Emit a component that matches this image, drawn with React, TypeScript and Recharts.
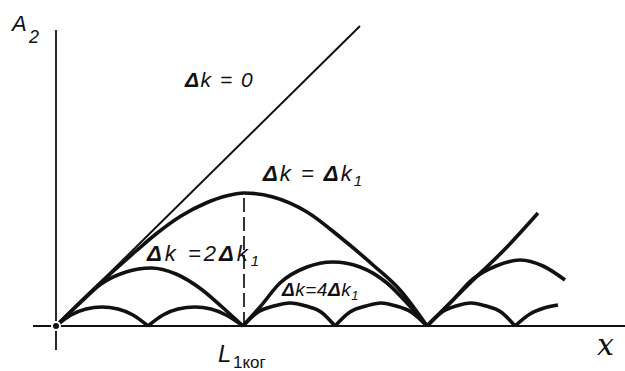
import { Line, LineChart, ReferenceLine, XAxis, YAxis } from "recharts";

type Pt = [number, number];

// distances from the origin, in the drawing's own units (x along the crystal, A2 amplitude)
const dk0Line: Pt[] = [[0, 0], [304, 300]];

const dk1Arches: Pt[][] = [
  [[0, 0], [40, 39], [80, 75], [100, 92], [125, 110], [150, 123], [170, 130], [188, 133],
    [217, 129], [251, 114], [284, 89], [317, 61], [344, 36], [371, 0]],
  [[371, 0], [411, 40], [451, 79], [482, 113]],
];

const dk2Arches: Pt[][] = [
  [[0, 0], [25, 24], [45, 42], [70, 54], [95, 58], [120, 52], [145, 37], [165, 20], [187, 0]],
  [[187, 0], [204, 19], [224, 43], [251, 59], [277, 64], [304, 59], [331, 43], [351, 23], [371, 0]],
  [[371, 0], [395, 24], [417, 47], [440, 60], [464, 66], [487, 60], [509, 46]],
];

const dk4Arches: Pt[][] = [
  [[0, 0], [15, 11], [30, 17], [46, 19], [62, 17], [77, 11], [92, 0]],
  [[92, 0], [107, 11], [122, 17], [139, 19], [155, 17], [170, 11], [187, 0]],
  [[187, 0], [202, 14], [218, 20], [234, 23], [250, 20], [265, 14], [279, 0]],
  [[279, 0], [294, 14], [310, 20], [325, 23], [340, 20], [355, 14], [371, 0]],
  [[371, 0], [386, 14], [400, 20], [415, 23], [430, 20], [445, 14], [459, 0]],
  [[459, 0], [474, 12], [488, 18], [502, 21]],
];

const coherenceX = 188;
const coherencePeak = 133;

const toRows = (pts: Pt[]) => pts.map(([x, a]) => ({ x, a }));

const INK = "#111";
const labelFont = "'Liberation Sans', Arial, sans-serif";

function Labels() {
  return (
    <svg
      width={625}
      height={371}
      style={{ position: "absolute", left: 0, top: 0, pointerEvents: "none" }}
      fontFamily={labelFont}
      fontStyle="italic"
      fill={INK}
    >
      <text x={12} y={31} fontSize={22}>
        A
        <tspan x={29} y={43} fontSize={18}>2</tspan>
      </text>
      <text x={185} y={87} fontSize={21} letterSpacing={1.5}>
        <tspan fontWeight="bold">Δ</tspan>k = 0
      </text>
      <text x={263} y={181} fontSize={22} letterSpacing={2}>
        <tspan fontWeight="bold">Δ</tspan>k = <tspan fontWeight="bold">Δ</tspan>k
        <tspan dy={5} fontSize={15}>1</tspan>
      </text>
      <text x={147} y={261} fontSize={22} letterSpacing={3}>
        <tspan fontWeight="bold">Δ</tspan>k =2<tspan fontWeight="bold">Δ</tspan>k
        <tspan dy={5} fontSize={15}>1</tspan>
      </text>
      <text x={282} y={296} fontSize={19} letterSpacing={0.5}>
        <tspan fontWeight="bold">Δ</tspan>k=4<tspan fontWeight="bold">Δ</tspan>k
        <tspan dy={4} fontSize={13}>1</tspan>
      </text>
      <text x={218} y={362} fontSize={24}>
        L
        <tspan x={233} y={368} fontSize={17} fontStyle="normal">1ког</tspan>
      </text>
      <text x={597} y={355} fontSize={30} fontFamily="'DejaVu Serif', serif">
        x
      </text>
    </svg>
  );
}

export default function App() {
  return (
    <div style={{ position: "absolute", left: 0, top: 0, width: 625, height: 371, background: "#fff" }}>
      <LineChart width={625} height={371} margin={{ top: 0, right: 0, bottom: 0, left: 0 }}>
        <XAxis type="number" dataKey="x" domain={[-56, 569]} hide allowDataOverflow />
        <YAxis type="number" domain={[-45, 326]} hide allowDataOverflow />
        <ReferenceLine segment={[{ x: -23, y: 0 }, { x: 569, y: 0 }]} stroke={INK} strokeWidth={2} />
        <ReferenceLine segment={[{ x: 0, y: -24 }, { x: 0, y: 296 }]} stroke={INK} strokeWidth={1.8} />
        <ReferenceLine
          segment={[{ x: coherenceX, y: 0 }, { x: coherenceX, y: coherencePeak }]}
          stroke={INK}
          strokeWidth={1.7}
          strokeDasharray="14 5"
        />
        <Line
          data={toRows(dk0Line)}
          dataKey="a"
          type="linear"
          stroke={INK}
          strokeWidth={2}
          dot={false}
          isAnimationActive={false}
        />
        {[...dk1Arches, ...dk2Arches, ...dk4Arches].map((arch, i) => (
          <Line
            key={i}
            data={toRows(arch)}
            dataKey="a"
            type="monotone"
            stroke={INK}
            strokeWidth={3.6}
            dot={false}
            activeDot={false}
            isAnimationActive={false}
          />
        ))}
      </LineChart>
      <Labels />
    </div>
  );
}
